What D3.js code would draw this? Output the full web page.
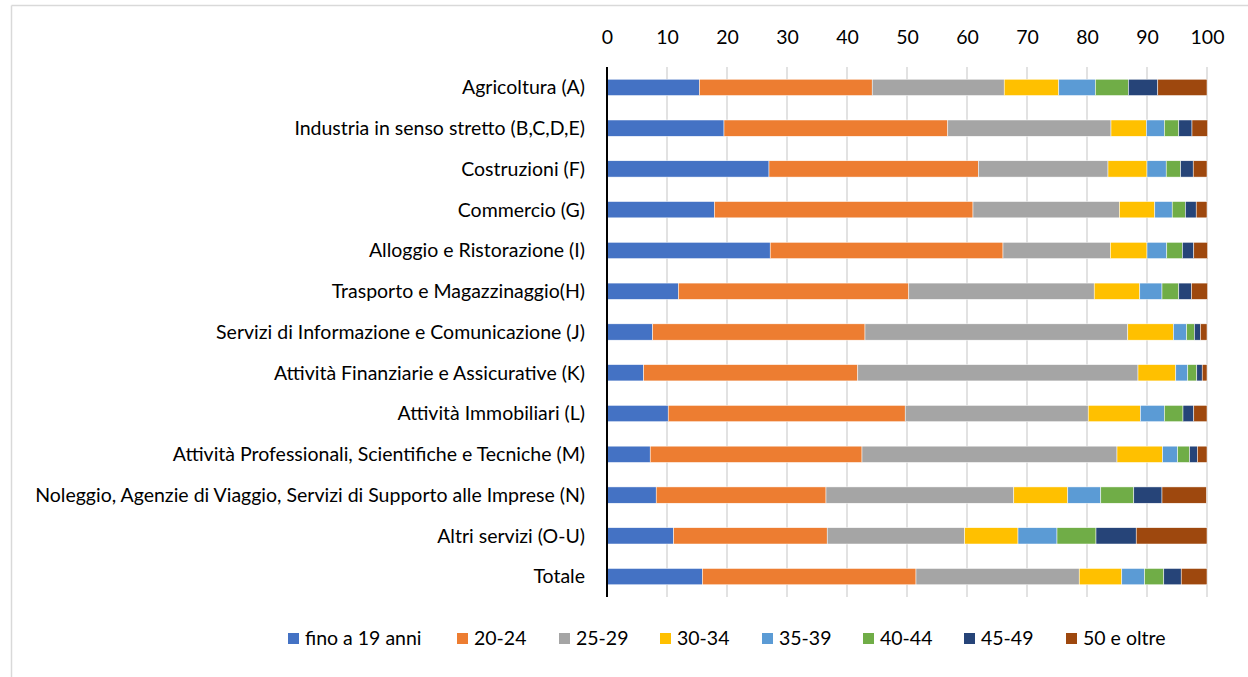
<!DOCTYPE html>
<html>
<head>
<meta charset="utf-8">
<script src="https://cdn.jsdelivr.net/npm/d3@7"></script>
<style>
    body { margin: 0; background: #fff; }
    svg { display: block; font-family: Lato, "Open Sans", sans-serif; }
</style>
</head>
<body>
<svg id="chart" width="1248" height="677"></svg>
<script>

// Categories, top to bottom
var categories = [
    "Agricoltura (A)",
    "Industria in senso stretto (B,C,D,E)",
    "Costruzioni (F)",
    "Commercio (G)",
    "Alloggio e Ristorazione (I)",
    "Trasporto e Magazzinaggio(H)",
    "Servizi di Informazione e Comunicazione (J)",
    "Attività Finanziarie e Assicurative (K)",
    "Attività Immobiliari (L)",
    "Attività Professionali, Scientifiche e Tecniche (M)",
    "Noleggio, Agenzie di Viaggio, Servizi di Supporto alle Imprese (N)",
    "Altri servizi (O-U)",
    "Totale"
];

var ageGroups = ["fino a 19 anni", "20-24", "25-29", "30-34", "35-39", "40-44", "45-49", "50 e oltre"];

// One array per age group, same order as categories (percent)
var upTo19  = [15.4, 19.5, 27.0, 17.9, 27.2, 11.9,  7.6,  6.1, 10.2,  7.2,  8.2, 11.1, 15.9];
var age2024 = [28.8, 37.3, 34.9, 43.1, 38.8, 38.4, 35.4, 35.7, 39.5, 35.3, 28.3, 25.6, 35.6];
var age2529 = [22.0, 27.2, 21.6, 24.4, 17.9, 30.9, 43.8, 46.7, 30.5, 42.5, 31.3, 22.9, 27.2];
var age3034 = [ 9.1,  5.9,  6.5,  5.9,  6.1,  7.6,  7.6,  6.3,  8.7,  7.6,  9.0,  8.9,  7.1];
var age3539 = [ 6.1,  3.0,  3.2,  2.9,  3.3,  3.7,  2.2,  2.0,  4.0,  2.5,  5.5,  6.5,  3.8];
var age4044 = [ 5.5,  2.4,  2.4,  2.2,  2.6,  2.8,  1.3,  1.5,  3.1,  2.0,  5.5,  6.5,  3.2];
var age4549 = [ 4.9,  2.2,  2.1,  1.8,  1.9,  2.1,  1.0,  0.9,  1.8,  1.3,  4.7,  6.7,  2.9];
var over50  = [ 8.2,  2.6,  2.3,  1.8,  2.3,  2.7,  1.1,  0.8,  2.2,  1.6,  7.4, 11.8,  4.3];

var xTicks = [0, 10, 20, 30, 40, 50, 60, 70, 80, 90, 100];

var colors = ["#4472C4", "#ED7D31", "#A5A5A5", "#FFC000", "#5B9BD5", "#70AD47", "#264478", "#9E480E"];

var seriesValues = [upTo19, age2024, age2529, age3034, age3539, age4044, age4549, over50];

// Build rows for d3.stack
var rows = categories.map(function (c, i) {
    var row = { category: c };
    ageGroups.forEach(function (g, j) { row[g] = seriesValues[j][i]; });
    return row;
});

var svg = d3.select("#chart");

var plot = { left: 607, right: 1207, top: 67, bottom: 597 };

var x = d3.scaleLinear()
    .domain([0, 100])
    .range([plot.left, plot.right]);

var y = d3.scaleBand()
    .domain(categories)
    .range([plot.top, plot.bottom])
    .paddingInner(0.6)
    .paddingOuter(0.3);

var color = d3.scaleOrdinal()
    .domain(ageGroups)
    .range(colors);

// Chart area border (only the top and left edges are in the picture)
svg.append("line")
    .attr("x1", 11.5).attr("x2", 1248)
    .attr("y1", 5.5).attr("y2", 5.5)
    .style("stroke", "#d9d9d9")
    .attr("stroke-width", 1.5);
svg.append("line")
    .attr("x1", 11.5).attr("x2", 11.5)
    .attr("y1", 5.5).attr("y2", 677)
    .style("stroke", "#d9d9d9")
    .attr("stroke-width", 1.5);

/**
 * Vertical gridlines
 */
svg.append("g")
    .attr("class", "grid")
    .selectAll("line")
    .data(xTicks.slice(1))
    .enter()
    .append("line")
    .attr("x1", function (d) { return x(d); })
    .attr("x2", function (d) { return x(d); })
    .attr("y1", plot.top)
    .attr("y2", plot.bottom)
    .style("stroke", "#d9d9d9")
    .attr("stroke-width", 1.5);

/**
 * Top axis with tick labels only
 */
var xAxis = d3.axisTop(x)
    .tickValues(xTicks)
    .tickSize(0)
    .tickPadding(0)
    .tickFormat(d3.format("d"));

svg.append("g")
    .attr("class", "x-axis")
    .attr("transform", "translate(0,44)")
    .call(xAxis)
    .call(function (g) { g.select(".domain").remove(); })
    .selectAll("text")
    .style("font-family", "Lato, sans-serif")
    .style("font-size", "19.5px")
    .style("fill", "#000");

/**
 * Stacked bars
 */
var stacked = d3.stack().keys(ageGroups)(rows);

svg.append("g")
    .attr("class", "bars")
    .selectAll("g")
    .data(stacked)
    .enter()
    .append("g")
    .attr("fill", function (d) { return color(d.key); })
    .selectAll("rect")
    .data(function (d) { return d; })
    .enter()
    .append("rect")
    .attr("x", function (d) { return x(d[0]); })
    .attr("width", function (d) { return x(d[1]) - x(d[0]); })
    .attr("y", function (d) { return y(d.data.category); })
    .attr("height", y.bandwidth())
    .style("stroke", "#fff")
    .attr("stroke-width", 0.5);

// Category axis line
svg.append("line")
    .attr("x1", plot.left).attr("x2", plot.left)
    .attr("y1", plot.top).attr("y2", plot.bottom)
    .style("stroke", "#000")
    .attr("stroke-width", 2);

/**
 * Category labels
 */
svg.append("g")
    .attr("class", "y-labels")
    .selectAll("text")
    .data(categories)
    .enter()
    .append("text")
    .attr("x", plot.left - 22)
    .attr("y", function (d) { return y(d) + y.bandwidth() / 2; })
    .attr("dy", "0.35em")
    .attr("text-anchor", "end")
    .style("font-size", "19.5px")
    .style("fill", "#000")
    .text(function (d) { return d; });

/**
 * Legend
 */
var legendX = [288, 457, 559, 660, 762, 863, 964, 1066];

var legend = svg.append("g")
    .attr("class", "legend")
    .selectAll("g")
    .data(ageGroups)
    .enter()
    .append("g")
    .attr("transform", function (d, i) { return "translate(" + legendX[i] + ",633)"; });

legend.append("rect")
    .attr("width", 11)
    .attr("height", 11)
    .attr("fill", function (d) { return color(d); });

legend.append("text")
    .attr("x", 17)
    .attr("y", 5.5)
    .attr("dy", "0.35em")
    .style("font-size", "19.5px")
    .style("fill", "#000")
    .text(function (d) { return d; });

</script>
</body>
</html>
